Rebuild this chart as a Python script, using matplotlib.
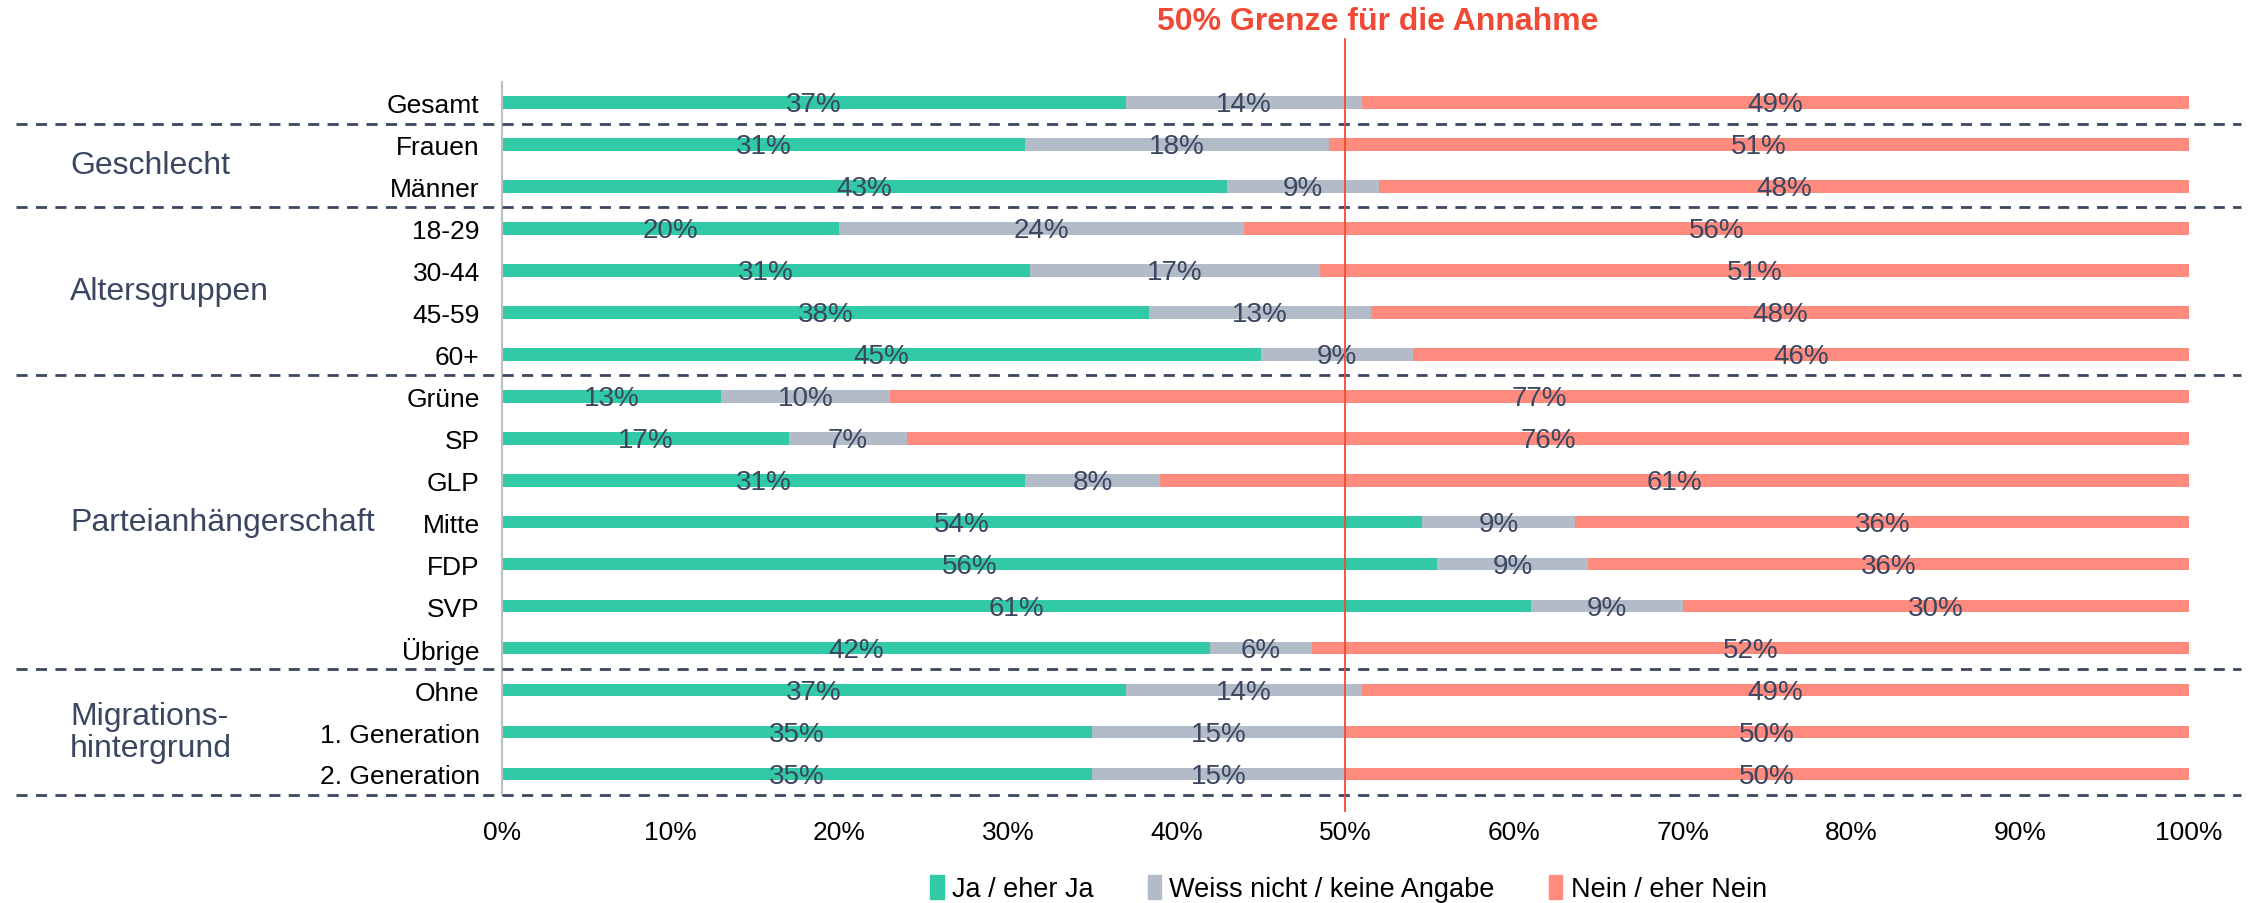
import matplotlib
matplotlib.use("Agg")
import matplotlib.pyplot as plt
from matplotlib.patches import Patch
from matplotlib.transforms import blended_transform_factory
import numpy as np

categories = ["Gesamt", "Frauen", "Männer", "18-29", "30-44", "45-59", "60+",
              "Grüne", "SP", "GLP", "Mitte", "FDP", "SVP", "Übrige",
              "Ohne", "1. Generation", "2. Generation"]
ja = [37, 31, 43, 20, 31, 38, 45, 13, 17, 31, 54, 56, 61, 42, 37, 35, 35]
weiss = [14, 18, 9, 24, 17, 13, 9, 10, 7, 8, 9, 9, 9, 6, 14, 15, 15]
nein = [49, 51, 48, 56, 51, 48, 46, 77, 76, 61, 36, 36, 30, 52, 49, 50, 50]
series_names = ["Ja / eher Ja", "Weiss nicht / keine Angabe", "Nein / eher Nein"]
groups = ["Geschlecht", "Altersgruppen", "Parteianhängerschaft", "Migrations-\nhintergrund"]
group_rows = [(1, 2), (3, 6), (7, 13), (14, 16)]
xticks = [0, 10, 20, 30, 40, 50, 60, 70, 80, 90, 100]

colors = ["#31c9a6", "#b3bac8", "#ff8b7e"]
navy = "#3b4660"
plt.rcParams["font.family"] = ["Liberation Sans", "DejaVu Sans"]

fig = plt.figure(figsize=(22.55, 9.04), dpi=100)
ax = fig.add_axes([0.2226, 0.1195, 0.9707 - 0.2226, 0.9087 - 0.1195])

# shares normalised so every bar runs to 100%
vals = np.array([ja, weiss, nein], dtype=float)
shares = vals / vals.sum(axis=0) * 100
y = np.arange(len(categories))
left = np.zeros(len(categories))
for k in range(3):
    ax.barh(y, shares[k], left=left, height=0.3, color=colors[k], label=series_names[k])
    for i in range(len(categories)):
        ax.text(left[i] + shares[k][i] / 2, y[i] + 0.04, f"{int(vals[k][i])}%",
                ha="center", va="center", fontsize=20, color=navy)
    left += shares[k]

ax.set_xlim(0, 100)
ax.set_ylim(16.5, -0.5)
ax.set_yticks(y)
ax.set_yticklabels(categories, fontsize=19)
ax.set_xticks(xticks)
ax.set_xticklabels([f"{t}%" for t in xticks], fontsize=19)
ax.tick_params(axis="both", length=0)
ax.tick_params(axis="y", pad=16)
ax.tick_params(axis="x", pad=18)
for s in ["top", "right", "bottom"]:
    ax.spines[s].set_visible(False)
ax.spines["left"].set_color("#c0c0c0")
ax.spines["left"].set_linewidth(1.5)

# group separators
tr = blended_transform_factory(fig.transFigure, ax.transData)
for yy in [0.5, 2.5, 6.5, 13.5, 16.5]:
    ax.plot([0.007, 0.994], [yy, yy], transform=tr, color=navy, lw=2,
            ls=(0, (4, 3)), clip_on=False, zorder=5)

for name, (a, b) in zip(groups, group_rows):
    ax.text(0.031, (a + b) / 2, name, transform=tr, ha="left", va="center",
            fontsize=23, color=navy, linespacing=1.05)

# 50% line
tr2 = blended_transform_factory(ax.transData, ax.transAxes)
ax.plot([50, 50], [-0.022, 1.06], transform=tr2, color="#f04a36", lw=1.3, clip_on=False, zorder=6)
fig.text(0.611, 0.976, "50% Grenze für die Annahme", ha="center", va="center",
         fontsize=23, fontweight="bold", color="#f04a36")

handles = [Patch(color=c) for c in colors]
fig.legend(handles, series_names, loc="center", bbox_to_anchor=(0.598, 0.016), ncol=3,
           frameon=False, handlelength=0.5, handleheight=1.0, handletextpad=0.3,
           columnspacing=2.0, prop={"size": 19.5})

fig.savefig("out.png", dpi=100)
